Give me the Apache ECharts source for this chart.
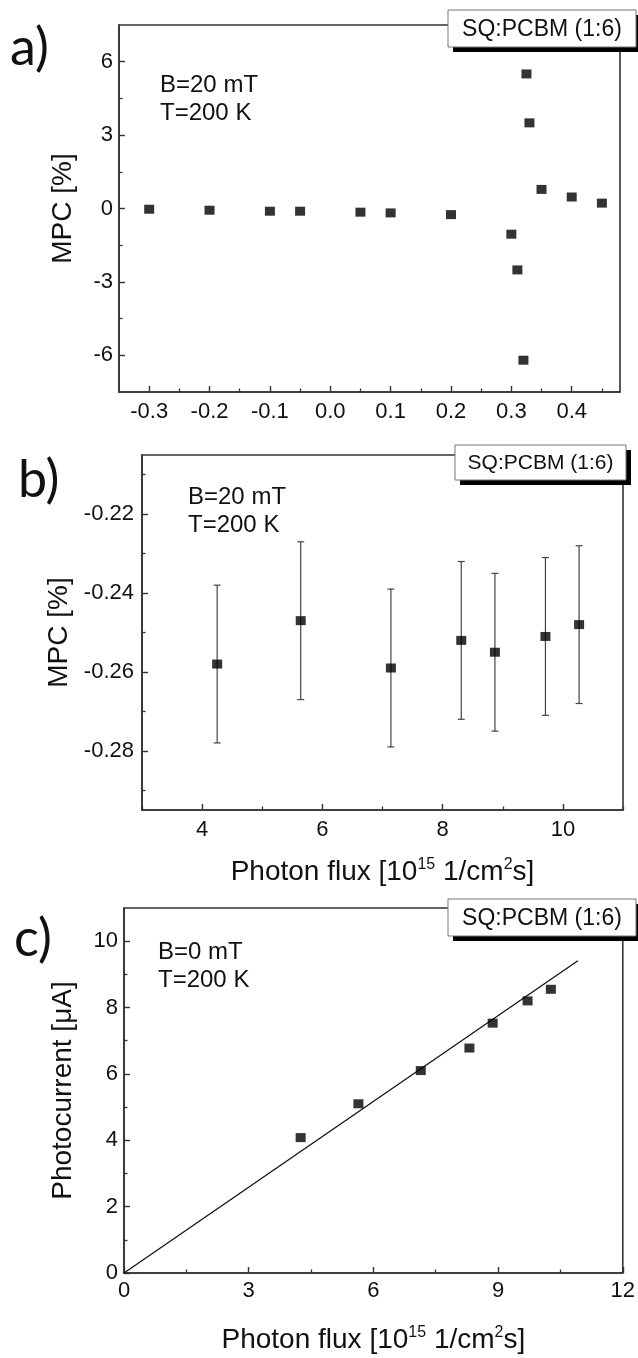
<!DOCTYPE html>
<html>
<head>
<meta charset="utf-8">
<script src="https://cdn.jsdelivr.net/npm/echarts@6/dist/echarts.min.js"></script>
<style>html,body{margin:0;padding:0;background:#fff;}#main{width:638px;height:1358px;}</style>
</head>
<body>
<div id="main"></div>
<script>
// ---- Panel a: MPC vs (unlabelled) x ----
const aX = [-0.3, -0.2, -0.1, -0.05, 0.05, 0.1, 0.2, 0.3, 0.31, 0.32, 0.325, 0.33, 0.35, 0.4, 0.45];
const aY = [-0.03, -0.07, -0.11, -0.11, -0.15, -0.18, -0.25, -1.05, -2.51, -6.2, 5.5, 3.5, 0.78, 0.47, 0.22];
const aXTicks = [-0.3, -0.2, -0.1, 0, 0.1, 0.2, 0.3, 0.4];
const aXMinor = [-0.25, -0.15, -0.05, 0.05, 0.15, 0.25, 0.35, 0.45];
const aYTicks = [-6, -3, 0, 3, 6];
const aYMinor = [-4.5, -1.5, 1.5, 4.5];

// ---- Panel b: MPC vs photon flux ----
const bX = [4.25, 5.64, 7.14, 8.31, 8.87, 9.71, 10.27];
const bY = [-0.258, -0.247, -0.259, -0.252, -0.255, -0.251, -0.248];
const bErr = [0.02, 0.02, 0.02, 0.02, 0.02, 0.02, 0.02];
const bXTicks = [4, 6, 8, 10];
const bXMinor = [3, 5, 7, 9, 11];
const bYTicks = [-0.28, -0.26, -0.24, -0.22];
const bYMinor = [-0.29, -0.27, -0.25, -0.23, -0.21];

// ---- Panel c: photocurrent vs photon flux ----
const cX = [4.25, 5.64, 7.14, 8.31, 8.87, 9.71, 10.27];
const cY = [4.08, 5.10, 6.10, 6.78, 7.53, 8.20, 8.55];
const fitX = [0, 10.92];
const fitY = [0, 9.41];
const cXTicks = [0, 3, 6, 9, 12];
const cXMinor = [1.5, 4.5, 7.5, 10.5];
const cYTicks = [0, 2, 4, 6, 8, 10];
const cYMinor = [1, 3, 5, 7, 9];

const legendText = 'SQ:PCBM (1:6)';
const FONT = 'Liberation Sans';
const AX = '#333';

const fluxName = 'Photon flux [10{sup|15} 1/cm{sup|2}s]';
const nameRich = {
  sup: {fontSize: 16, fontFamily: FONT, color: '#111', verticalAlign: 'top', lineHeight: 30}
};

function majorAxis(dim, grid, min, max, ticks, fmt, margin, extra) {
  return Object.assign({
    type: 'value', gridIndex: grid, min: min, max: max,
    position: dim === 'x' ? 'bottom' : 'left',
    axisLine: {show: true, onZero: false, lineStyle: {color: AX, width: 1.6}},
    axisTick: {show: true, inside: true, length: 6, customValues: ticks, lineStyle: {color: AX, width: 1.4}},
    axisLabel: {show: true, customValues: ticks, formatter: fmt, margin: margin,
      fontSize: 22, fontFamily: FONT, color: '#111'},
    splitLine: {show: false}
  }, extra || {});
}
function minorAxis(dim, grid, min, max, ticks) {
  return {
    type: 'value', gridIndex: grid, min: min, max: max,
    position: dim === 'x' ? 'bottom' : 'left', offset: 0,
    axisLine: {show: false, onZero: false},
    axisTick: {show: true, inside: true, length: 3.5, customValues: ticks, lineStyle: {color: AX, width: 1.3}},
    axisLabel: {show: false},
    splitLine: {show: false}
  };
}

const nameStyleBase = {fontSize: 28, fontFamily: FONT, color: '#111'};

const xAxis = [
  majorAxis('x', 0, -0.35, 0.48, aXTicks, v => v.toFixed(1), 9),
  minorAxis('x', 0, -0.35, 0.48, aXMinor),
  majorAxis('x', 1, 3, 11, bXTicks, v => String(v), 9, {
    name: fluxName, nameLocation: 'middle', nameGap: 47,
    nameTextStyle: Object.assign({rich: nameRich, lineHeight: 30}, nameStyleBase)
  }),
  minorAxis('x', 1, 3, 11, bXMinor),
  majorAxis('x', 2, 0, 12, cXTicks, v => String(v), 7, {
    name: fluxName, nameLocation: 'middle', nameGap: 52,
    nameTextStyle: Object.assign({rich: nameRich, lineHeight: 30}, nameStyleBase)
  }),
  minorAxis('x', 2, 0, 12, cXMinor)
];
const yAxis = [
  majorAxis('y', 0, -7.5, 7.5, aYTicks, v => String(v), 6, {
    name: 'MPC [%]', nameLocation: 'middle', nameGap: 42, nameTextStyle: nameStyleBase
  }),
  minorAxis('y', 0, -7.5, 7.5, aYMinor),
  majorAxis('y', 1, -0.295, -0.205, bYTicks, v => v.toFixed(2), 8, {
    name: 'MPC [%]', nameLocation: 'middle', nameGap: 68, nameTextStyle: nameStyleBase
  }),
  minorAxis('y', 1, -0.295, -0.205, bYMinor),
  majorAxis('y', 2, 0, 11, cYTicks, v => String(v), 6, {
    name: 'Photocurrent [μA]', nameLocation: 'middle', nameGap: 47, nameTextStyle: nameStyleBase
  }),
  minorAxis('y', 2, 0, 11, cYMinor)
];

const gridStyle = {show: true, borderColor: AX, borderWidth: 1.6, backgroundColor: 'transparent'};
const grid = [
  Object.assign({left: 119, top: 25, width: 501, height: 367}, gridStyle),
  Object.assign({left: 142, top: 455, width: 481, height: 355}, gridStyle),
  Object.assign({left: 124, top: 908, width: 499, height: 365}, gridStyle)
];

function legendBox(x, y, w, h, fs) {
  return {
    type: 'group', x: x, y: y, z: 50,
    children: [
      {type: 'rect', z: 50, shape: {x: 5, y: 5, width: w, height: h}, style: {fill: '#000'}},
      {type: 'rect', z: 51, shape: {x: 0, y: 0, width: w, height: h}, style: {fill: '#fff', stroke: '#777', lineWidth: 1}},
      {type: 'text', z: 52, x: w / 2, y: h / 2 + 1, style: {text: legendText, fill: '#111',
        font: fs + 'px "Liberation Sans"', textAlign: 'center', textVerticalAlign: 'middle'}}
    ]
  };
}
function panelLetter(t, left, top) {
  return {text: t, left: left, top: top, padding: 0,
    textStyle: {fontSize: 52, fontWeight: 'normal', fontFamily: 'Lato', color: '#111'}};
}
function annot(t, left, top) {
  return {text: t, left: left, top: top, padding: 0,
    textStyle: {fontSize: 24, fontWeight: 'normal', fontFamily: FONT, color: '#111', lineHeight: 28}};
}

const title = [
  panelLetter('a)', 10, 22),
  annot('B=20 mT\nT=200 K', 160, 71),
  panelLetter('b)', 18, 454),
  annot('B=20 mT\nT=200 K', 188, 483),
  panelLetter('c)', 14, 913),
  annot('B=0 mT\nT=200 K', 158, 938)
];

const graphic = [
  legendBox(448, 10, 188, 37, 23),
  legendBox(455, 445, 171, 35, 21),
  legendBox(448, 899, 188, 37, 23)
];

const sq = {type: 'scatter', symbol: 'rect', symbolSize: [10, 9], itemStyle: {color: '#000'}, z: 5};

const series = [
  Object.assign({}, sq, {xAxisIndex: 0, yAxisIndex: 0, data: aX.map((x, i) => [x, aY[i]])}),
  {
    type: 'custom', xAxisIndex: 2, yAxisIndex: 2, z: 3,
    data: bX.map((x, i) => [x, bY[i], bErr[i]]),
    encode: {x: 0, y: 1},
    renderItem: function (params, api) {
      const x = api.value(0), y = api.value(1), e = api.value(2);
      const top = api.coord([x, y + e]);
      const bot = api.coord([x, y - e]);
      const hw = 3.5;
      const st = {stroke: '#444', lineWidth: 1.2};
      return {type: 'group', children: [
        {type: 'line', shape: {x1: top[0], y1: top[1], x2: bot[0], y2: bot[1]}, style: st},
        {type: 'line', shape: {x1: top[0] - hw, y1: top[1], x2: top[0] + hw, y2: top[1]}, style: st},
        {type: 'line', shape: {x1: bot[0] - hw, y1: bot[1], x2: bot[0] + hw, y2: bot[1]}, style: st}
      ]};
    }
  },
  Object.assign({}, sq, {xAxisIndex: 2, yAxisIndex: 2, data: bX.map((x, i) => [x, bY[i]])}),
  {
    type: 'line', xAxisIndex: 4, yAxisIndex: 4, z: 3, symbol: 'none',
    lineStyle: {color: '#111', width: 1.3},
    data: fitX.map((x, i) => [x, fitY[i]])
  },
  Object.assign({}, sq, {xAxisIndex: 4, yAxisIndex: 4, data: cX.map((x, i) => [x, cY[i]])})
];

const chart = echarts.init(document.getElementById('main'), null, {renderer: 'canvas'});
chart.setOption({
  animation: false,
  backgroundColor: '#fff',
  title: title,
  grid: grid,
  xAxis: xAxis,
  yAxis: yAxis,
  graphic: graphic,
  series: series
});
</script>
</body>
</html>
